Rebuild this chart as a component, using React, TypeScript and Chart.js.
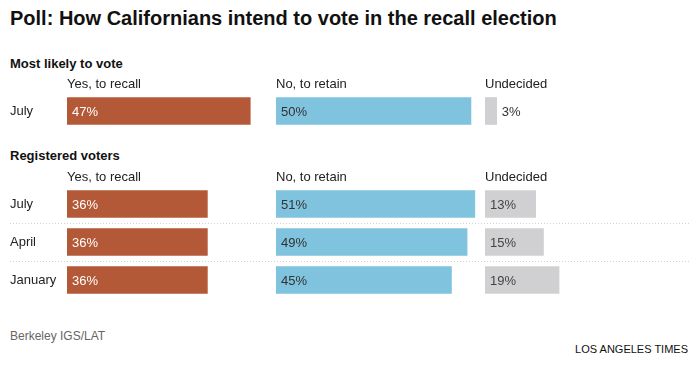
import React, { useEffect, useRef } from 'react';
import { Chart, registerables } from 'chart.js';

Chart.register(...registerables);

const FONT = '"Liberation Sans", Arial, Helvetica, sans-serif';
const NARROW = '"Liberation Sans Narrow", "Liberation Sans", Arial, sans-serif';

// ---- data ----
const chartTitle = 'Poll: How Californians intend to vote in the recall election';
const columnLabels = ['Yes, to recall', 'No, to retain', 'Undecided'];
const sectionLabels = ['Most likely to vote', 'Registered voters'];

const likelyRows = ['July'];
const likelyRecall = [47];
const likelyRetain = [50];
const likelyUndecided = [3];

const registeredRows = ['July', 'April', 'January'];
const registeredRecall = [36, 36, 36];
const registeredRetain = [51, 49, 45];
const registeredUndecided = [13, 15, 19];

const sourceText = 'Berkeley IGS/LAT';
const creditText = 'LOS ANGELES TIMES';

// ---- styles ----
const COLORS = ['#b35938', '#80c3de', '#d0d0d2'];
const LABEL_COLORS = ['#ffffff', '#333333', '#444444'];
const AXIS_MAX = [53.6, 53.6, 52.6];
const AXIS_WEIGHT = [209, 209, 205];

const valueLabels = {
  id: 'valueLabels',
  afterDatasetsDraw(chart: any) {
    const ctx = chart.ctx;
    ctx.save();
    ctx.font = `13px ${FONT}`;
    ctx.textBaseline = 'middle';
    ctx.textAlign = 'left';
    chart.data.datasets.forEach((ds: any, di: number) => {
      const meta = chart.getDatasetMeta(di);
      meta.data.forEach((bar: any, i: number) => {
        const v = ds.data[i];
        const text = `${v}%`;
        const { x, base, y } = bar.getProps(['x', 'base', 'y'], true);
        const left = Math.min(x, base);
        const right = Math.max(x, base);
        const w = ctx.measureText(text).width;
        if (right - left >= w + 10) {
          ctx.fillStyle = LABEL_COLORS[di];
          ctx.fillText(text, left + 5, y + 1);
        } else {
          ctx.fillStyle = '#333333';
          ctx.fillText(text, right + 5, y + 1);
        }
      });
    });
    ctx.restore();
  },
};

const rowSeparators = {
  id: 'rowSeparators',
  beforeDatasetsDraw(chart: any) {
    const yScale = chart.scales.y;
    const n = chart.data.labels.length;
    const ctx = chart.ctx;
    ctx.save();
    ctx.strokeStyle = '#d2d2d2';
    ctx.lineWidth = 1;
    ctx.setLineDash([1, 2]);
    for (let i = 0; i < n - 1; i++) {
      const yy = Math.round((yScale.getPixelForTick(i) + yScale.getPixelForTick(i + 1)) / 2) + 0.5;
      ctx.beginPath();
      ctx.moveTo(yScale.left, yy);
      ctx.lineTo(chart.width, yy);
      ctx.stroke();
    }
    ctx.restore();
  },
};

function BarTable(props: {
  rows: string[];
  values: number[][];
  top: number;
  height: number;
  separators: boolean;
}) {
  const ref = useRef<HTMLCanvasElement | null>(null);
  useEffect(() => {
    if (!ref.current) return;
    const scales: any = {
      y: {
        type: 'category',
        position: 'left',
        grid: { display: false, drawTicks: false },
        border: { display: false },
        ticks: { crossAlign: 'far', color: '#222222', font: { size: 13, family: FONT }, padding: 0 },
        afterFit: (s: any) => {
          s.width = 57;
          s.paddingTop = 0;
          s.paddingBottom = 0;
        },
      },
    };
    // stacked boxes are placed in reverse order, so insert the last column first
    for (let c = columnLabels.length - 1; c >= 0; c--) {
      scales['x' + c] = {
        type: 'linear',
        position: 'top',
        stack: 'cols',
        stackWeight: AXIS_WEIGHT[c],
        min: 0,
        max: AXIS_MAX[c],
        grid: { display: false, drawTicks: false },
        border: { display: false },
        ticks: { display: false },
        title: {
          display: true,
          text: columnLabels[c],
          align: 'start',
          color: '#222222',
          font: { size: 13, family: FONT, lineHeight: 1 },
          padding: { top: 4.5, bottom: 1.5 },
        },
      };
    }
    const plugins: any[] = [valueLabels];
    if (props.separators) plugins.push(rowSeparators);
    const chart = new Chart(ref.current, {
      type: 'bar',
      data: {
        labels: props.rows,
        datasets: props.values.map((vals, c) => ({
          label: columnLabels[c],
          data: vals,
          xAxisID: 'x' + c,
          yAxisID: 'y',
          backgroundColor: COLORS[c],
          borderWidth: 0,
          barThickness: 27,
          grouped: false,
        })) as any,
      },
      options: {
        indexAxis: 'y',
        responsive: false,
        animation: false,
        events: [],
        layout: { padding: { left: 10, right: 0, top: 0, bottom: 0 } },
        plugins: { legend: { display: false }, tooltip: { enabled: false } },
        scales,
      } as any,
      plugins,
    });
    return () => chart.destroy();
  }, []);
  return (
    <canvas
      ref={ref}
      width={690}
      height={props.height}
      style={{ position: 'absolute', left: 0, top: props.top, width: 690, height: props.height, display: 'block' }}
    />
  );
}

export default function App() {
  return (
    <div
      style={{
        position: 'absolute',
        left: 0,
        top: 0,
        width: 690,
        height: 368,
        background: '#ffffff',
        overflow: 'hidden',
        fontFamily: FONT,
      }}
    >
      <div
        style={{
          position: 'absolute',
          left: 10,
          top: 8,
          fontSize: 20,
          lineHeight: '20px',
          fontWeight: 'bold',
          color: '#111111',
          whiteSpace: 'nowrap',
        }}
      >
        {chartTitle}
      </div>
      <div
        style={{
          position: 'absolute',
          left: 10,
          top: 56.5,
          fontSize: 13,
          lineHeight: '13px',
          fontWeight: 'bold',
          color: '#111111',
          whiteSpace: 'nowrap',
        }}
      >
        {sectionLabels[0]}
      </div>
      <BarTable
        rows={likelyRows}
        values={[likelyRecall, likelyRetain, likelyUndecided]}
        top={73}
        height={57}
        separators={false}
      />
      <div
        style={{
          position: 'absolute',
          left: 10,
          top: 149,
          fontSize: 13,
          lineHeight: '13px',
          fontWeight: 'bold',
          color: '#111111',
          whiteSpace: 'nowrap',
        }}
      >
        {sectionLabels[1]}
      </div>
      <BarTable
        rows={registeredRows}
        values={[registeredRecall, registeredRetain, registeredUndecided]}
        top={166}
        height={133}
        separators={true}
      />
      <div
        style={{
          position: 'absolute',
          left: 10,
          top: 330,
          fontSize: 12,
          lineHeight: '12px',
          color: '#666666',
          whiteSpace: 'nowrap',
        }}
      >
        {sourceText}
      </div>
      <div
        style={{
          position: 'absolute',
          right: 2,
          top: 343.5,
          fontSize: 11,
          lineHeight: '11px',
          fontFamily: NARROW,
          color: '#111111',
          whiteSpace: 'nowrap',
        }}
      >
        {creditText}
      </div>
    </div>
  );
}
